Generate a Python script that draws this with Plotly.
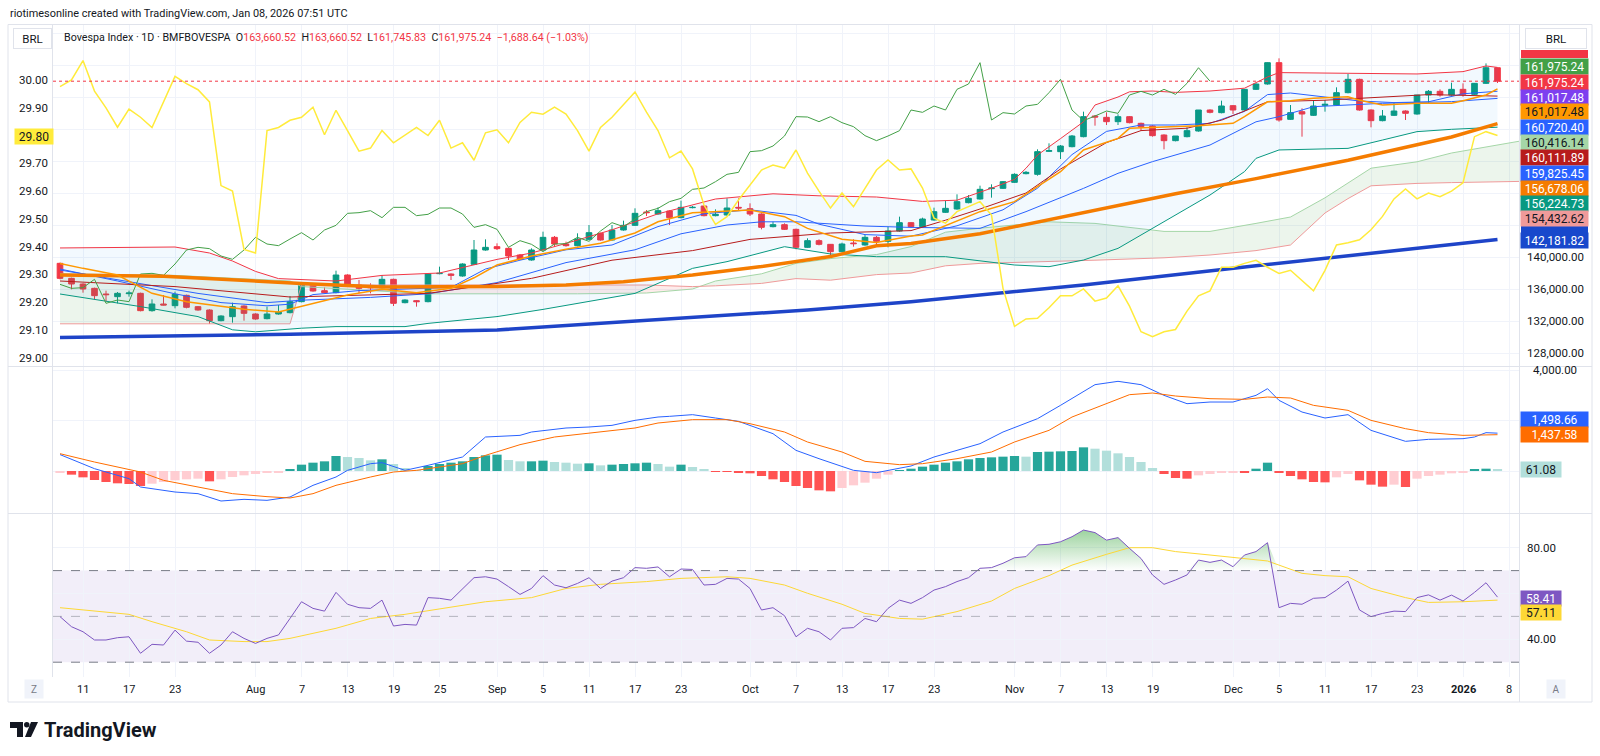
import plotly.graph_objects as go

W, H = 1600, 756
def px(x): return x / W
def py(y): return 1 - y / H

# ---------------- data ----------------
bar_idx = list(range(126))
opens = [139208,137333,136625,136083,135375,135042,135417,135458,133292,134125,
         133917,135208,133792,133375,132042,132542,133875,132875,132292,132875,
         133042,134417,136500,135792,135542,137750,136500,136250,136167,137208,
         134292,134542,134417,137917,137875,137625,139083,140875,141292,141083,
         140250,139625,140875,142458,141625,141417,142208,142958,142125,143375,
         143958,145625,145375,145750,144917,146167,146375,145167,145250,146208,
         146042,145375,143792,144042,143458,141208,142042,141583,140667,141750,
         141500,142458,141958,143250,144292,143792,144625,145583,146000,146792,
         147250,148542,148583,149333,150417,150333,153208,153167,153792,155042,
         157625,157458,156917,157542,156708,156375,155250,154542,155042,155750,
         158375,158042,158917,158375,160958,161625,164292,157208,158167,157708,
         158958,159000,160542,162208,158375,157042,157708,158250,157875,160250,
         160708,160250,160958,160333,161708,163660.52]
highs = [139292,137417,136708,136167,135792,135625,135792,135542,134708,135250,
         135667,135292,133875,133458,132708,134292,133958,132958,133792,134000,
         135125,136833,136583,136208,138292,137833,137125,136708,137750,137292,
         134708,134625,137958,138792,137958,139208,142125,142208,141708,141208,
         140375,141083,143167,142625,141917,142958,144000,143042,144000,144542,
         146083,145875,146208,145833,147042,146375,146458,145958,147333,147333,
         146708,145458,144417,144208,143542,142333,142208,141625,141792,142208,
         142750,142625,143792,145042,144375,144917,146167,147000,147833,147750,
         148917,149083,149500,150458,150750,153458,154208,154000,155250,158167,
         157750,158083,157833,157625,156792,156458,155333,154958,156208,155875,
         158458,159542,159000,158458,161708,161708,164833,159000,158583,159542,
         159625,161208,162875,162292,158458,158375,159292,158333,157958,160875,
         160958,161792,161708,160417,164200,163660.52]
lows = [137208,135958,135542,134708,134417,134208,135042,133208,133167,133958,
        133583,133583,133292,131625,131958,131792,132042,132167,132208,132792,
        132958,134333,135667,135458,135458,136500,135458,135458,136083,133875,
        134208,133792,134333,137833,137125,137542,139000,140792,140875,139625,
        139625,139542,140792,141292,141292,141333,142125,142042,142042,143292,
        143875,145125,145292,144000,144833,146083,145083,145083,145167,145750,
        145125,143458,143708,143375,140958,141125,141458,140208,140583,141292,
        141417,141500,141208,143167,143708,143708,144542,145500,145917,146708,
        147167,147417,148500,149250,150333,150167,153125,152250,153708,154958,
        156417,156500,156500,156708,155750,155042,153458,154458,154958,155667,
        157958,157958,157875,158292,160875,161542,156917,157125,155042,157625,
        158167,158917,160458,158292,156208,156958,157625,157125,157792,159208,
        160042,160167,160042,160250,161625,161745.83]
closes = [137333,136625,136000,135167,135292,135458,135500,133292,134125,134000,
          135333,133708,133375,132042,132625,133792,132958,132250,132875,133125,
          134417,136500,135750,135542,137750,136583,136083,136167,137208,134208,
          134625,134417,137875,137958,137708,139125,140875,141208,141042,140125,
          139708,140875,142458,141625,141417,142250,143042,142125,143375,143958,
          145458,145542,145792,144917,146208,146208,145167,145333,146125,146125,
          145375,143708,144042,143458,141208,142042,141583,140667,141625,141667,
          142458,141958,143250,144292,143792,144750,145667,146083,146917,147333,
          148458,148625,149417,150333,150583,153167,153292,153875,155125,157542,
          157500,156917,157542,156792,156292,155167,154542,155125,155792,158375,
          158083,158875,158375,160958,161625,164292,157125,158042,157875,158875,
          159083,160542,162208,158375,157042,157625,158250,157958,160250,160708,
          160250,160958,160333,161708,163660.52,161975.24]

# Comparison series on the left scale (BRL)
brl_line = [29.976,30.00,30.07,29.96,29.90,29.83,29.895,29.866,29.829,29.921,
            30.013,29.987,29.965,29.921,29.62,29.60,29.39,29.377,29.818,29.829,
            29.855,29.866,29.902,29.803,29.891,29.818,29.744,29.755,29.818,29.774,
            29.803,29.829,29.80,29.855,29.755,29.774,29.711,29.810,29.821,29.774,
            29.847,29.884,29.877,29.902,29.877,29.818,29.744,29.829,29.866,29.91,
            29.957,29.884,29.818,29.72,29.744,29.68,29.55,29.48,29.508,29.568,
            29.62,29.676,29.694,29.683,29.748,29.665,29.60,29.539,29.593,29.544,
            29.61,29.676,29.712,29.676,29.680,29.611,29.503,29.485,29.526,29.545,
            29.562,29.514,29.25,29.113,29.14,29.142,29.18,29.223,29.223,29.248,
            29.204,29.215,29.259,29.186,29.094,29.076,29.094,29.102,29.168,29.223,
            29.241,29.326,29.326,29.340,29.351,29.326,29.304,29.315,29.278,29.241,
            29.315,29.406,29.414,29.425,29.461,29.509,29.572,29.608,29.572,29.593,
            29.58,29.60,29.63,29.796,29.814,29.80]

sma200_x = [0, 20, 38, 50, 65, 74, 89, 104, 125]
sma200_v = [129950, 130350, 130880, 132000, 133380, 134420, 136500, 138900, 142181.82]

sma50_x = [0, 9, 21, 28, 38, 44, 49, 55, 61, 67, 71, 74, 80, 88, 95, 97, 104, 112, 121, 125]
sma50_v = [137750, 137600, 136700, 136250, 136300, 136500, 136900, 137750, 138800, 140050,
           141400, 141700, 142900, 145300, 147400, 147900, 149800, 152100, 155000, 156678.06]

ema_x = [0, 2, 5, 8, 11, 14, 16, 19, 22, 25, 28, 31, 34, 36, 38, 41, 44, 47, 50, 52, 55, 58, 60,
         63, 65, 68, 71, 74, 75, 80, 83, 85, 87, 89, 92, 93, 97, 99, 102, 103, 105, 107, 109,
         112, 113, 115, 118, 121, 122, 124, 125]
ema_v = [139200, 138580, 137750, 135460, 134420, 133875, 133460, 133125, 134200, 135250, 135960,
         135540, 136080, 137400, 139000, 140125, 140960, 141710, 143000, 144400, 145540, 145790,
         145875, 145040, 143580, 142210, 141800, 142625, 142750, 145667, 146917, 148790, 150665,
         153375, 154833, 156083, 156290, 156400, 156708, 157540, 159400, 159540, 159833, 160040,
         159600, 159000, 159208, 159208, 159540, 160250, 161017.48]

bb_up_x = [0, 10, 13, 15, 17, 19, 24, 28, 33, 36, 38, 41, 44, 48, 52, 57, 62, 66, 71, 75, 78, 81,
           83, 84, 85, 87, 89, 90, 92, 93, 95, 97, 100, 103, 105, 106, 112, 118, 122, 124, 125]
bb_up_v = [141130, 141250, 140500, 139500, 138200, 137300, 137000, 137700, 138000, 139000, 139700,
           140500, 141700, 143400, 145400, 147250, 147900, 147650, 147500, 146950, 147100, 148600,
           149700, 151100, 152750, 154800, 156900, 159000, 160000, 160650, 160750, 160580, 160750,
           161100, 162500, 163050, 162950, 162880, 163170, 163880, 163700]
bb_lo_x = [0, 7, 12, 15, 17, 21, 24, 30, 32, 38, 42, 50, 53, 55, 58, 63, 67, 71, 77, 83, 86, 89,
           92, 94, 97, 100, 103, 104, 106, 112, 115, 118, 121, 125]
bb_lo_v = [135375, 133800, 132550, 130900, 130650, 131100, 131300, 131300, 131700, 132550, 133450,
           135450, 137330, 138580, 139420, 141290, 140380, 140040, 140040, 139000, 138790, 139620,
           141080, 142750, 145250, 147750, 150670, 152330, 153380, 153580, 154620, 155670, 155960,
           156224.73]
bb_mid_x = [0, 6, 12, 18, 21, 27, 32, 38, 44, 50, 54, 58, 61, 64, 70, 74, 80, 84, 89, 92, 95, 100,
            104, 106, 109, 115, 121, 125]
bb_mid_v = [138375, 136900, 135450, 134300, 134600, 134950, 135400, 136800, 139300, 140900, 142900,
            144000, 144400, 144400, 143870, 143700, 143580, 145670, 148580, 150460, 151920, 154000,
            156900, 157540, 158790, 159210, 159420, 159825.45]

tenkan_x = [0, 5, 10, 14, 18, 20, 22, 26, 30, 34, 37, 40, 44, 48, 52, 56, 60, 64, 66, 70, 74, 78,
            82, 85, 88, 91, 94, 97, 100, 103, 105, 107, 110, 113, 116, 119, 122, 125]
tenkan_v = [138500, 137000, 135400, 134300, 133900, 134100, 135300, 135800, 136000, 136200, 138500,
            139600, 140900, 141500, 143800, 145400, 145900, 145200, 144100, 142800, 142600, 143900,
            145900, 148600, 152800, 155700, 156500, 156500, 156700, 158200, 160300, 160500, 160000,
            159500, 159300, 159400, 160400, 160720.40]
kijun_x = [0, 10, 20, 32, 41, 48, 55, 60, 67, 74, 77, 80, 84, 87, 91, 94, 98, 101, 105, 110, 119, 125]
kijun_v = [137000, 136300, 135000, 135450, 137330, 139600, 140800, 142200, 143000, 143300, 144600,
           146000, 148000, 151000, 154300, 155800, 156100, 157100, 159400, 159600, 160300, 160111.89]

cloud_x = [0, 10, 20, 21, 32, 45, 51, 55, 57, 61, 64, 67, 71, 74, 77, 80, 86, 90, 96, 100, 104,
           107, 110, 112, 114, 118, 121, 127]
span_a = [137900, 137700, 137000, 136300, 135400, 135400, 135500, 136000, 137000, 137900, 139200,
          139800, 140300, 141300, 143100, 143600, 144400, 144200, 143200, 143200, 144200, 145000,
          147400, 149300, 151100, 151900, 153000, 154500]
span_b = [131650, 131650, 131650, 136500, 136500, 136500, 136500, 136300, 136400, 136700, 137300,
          137100, 137800, 138000, 138900, 139200, 139400, 139600, 139900, 140250, 140800, 141500,
          145500, 147300, 148900, 149200, 149300, 149450]

macd_x = [0, 3, 6, 7, 10, 12, 14, 16, 18, 20, 22, 24, 25, 27, 28, 30, 32, 35, 37, 40, 41, 44, 46,
          48, 50, 52, 53, 55, 57, 59, 62, 64, 66, 69, 71, 74, 76, 80, 82, 85, 87, 89, 90, 92, 94,
          96, 98, 100, 102, 104, 105, 106, 108, 110, 112, 114, 117, 119, 122, 123, 124, 125]
macd_v = [650, 92, -304, -634, -832, -898, -1188, -1122, -1162, -1030, -568, -238, 26, 290, 330,
          26, 224, 554, 1346, 1412, 1544, 1703, 1742, 1808, 2006, 2138, 2165, 2231, 2099, 1967,
          1478, 818, 488, 26, -66, 198, 554, 1082, 1544, 2072, 2600, 3128, 3419, 3551, 3419, 2996,
          2666, 2732, 2732, 2996, 3260, 2798, 2336, 2099, 2231, 1610, 1175, 1254, 1280, 1346, 1518,
          1498.66]
signal_x = [0, 3, 7, 9, 12, 15, 18, 20, 22, 24, 27, 29, 31, 35, 37, 40, 43, 47, 50, 52, 55, 58, 60,
            63, 65, 68, 70, 73, 75, 78, 81, 83, 86, 88, 91, 93, 95, 97, 100, 103, 105, 107, 109,
            112, 114, 117, 119, 122, 125]
signal_v = [686, 356, -40, -370, -634, -898, -1016, -1069, -898, -568, -238, -40, 26, 290, 620, 1043,
            1346, 1544, 1703, 1901, 2033, 2033, 1874, 1544, 1148, 752, 383, 251, 290, 488, 752, 1148,
            1610, 2138, 2666, 3023, 3089, 2970, 2864, 2838, 2930, 2891, 2600, 2402, 2006, 1676, 1518,
            1412, 1437.58]
macd_hist = [-40, -145, -251, -356, -436, -488, -515, -594, -502, -436, -370, -330, -304, -409, -330,
             -238, -172, -119, -79, -40, 66, 251, 330, 383, 594, 554, 515, 422, 462, 277, 119, 26,
             198, 277, 330, 383, 554, 620, 647, 436, 383, 383, 409, 356, 330, 290, 304, 224, 251,
             277, 304, 330, 277, 172, 251, 158, 66, -13, -26, -40, -92, -198, -330, -436, -594,
             -673, -766, -805, -673, -568, -462, -304, -145, 13, 92, 172, 251, 330, 383, 462, 515,
             541, 568, 594, 568, 752, 766, 779, 792, 937, 884, 805, 700, 554, 356, 119, -119, -277,
             -304, -172, -119, -66, -40, -66, 92, 330, -66, -198, -330, -436, -449, -251, -119,
             -370, -541, -620, -541, -634, -304, -198, -145, -92, -40, 66, 92, 61.08]

rsi = [49.9, 45.5, 43.3, 39.7, 39.7, 40.7, 41.1, 33.9, 37.8, 37.5, 44.0, 39.2, 38.7, 33.9, 37.5,
       43.3, 40.4, 38.2, 40.4, 41.9, 49.1, 56.4, 53.5, 52.3, 60.5, 55.3, 53.8, 53.5, 57.1, 45.8,
       46.5, 46.2, 58.2, 57.9, 57.1, 62.2, 66.9, 67.3, 66.3, 63.0, 59.6, 62.2, 67.8, 63.7, 62.5,
       64.4, 66.9, 62.2, 65.4, 66.9, 71.3, 71.0, 71.6, 67.3, 70.7, 70.5, 63.7, 64.0, 66.6, 66.3,
       62.2, 52.8, 53.8, 50.3, 41.1, 44.8, 43.3, 39.7, 44.8, 45.1, 49.1, 47.7, 53.5, 57.1, 55.7,
       58.2, 61.5, 63.0, 65.2, 66.9, 71.0, 71.3, 73.2, 75.6, 76.1, 81.2, 81.5, 82.6, 84.8, 87.7,
       86.6, 83.3, 84.4, 79.7, 75.3, 68.1, 64.0, 65.9, 68.1, 74.6, 73.6, 74.6, 71.7, 76.8, 78.3,
       82.2, 53.8, 55.7, 55.3, 57.9, 58.2, 61.5, 65.4, 52.8, 49.9, 51.3, 52.3, 52.1, 58.2, 59.4,
       57.1, 59.3, 56.7, 60.5, 64.7, 58.41]
rsi_ma_x = [0, 3, 6, 8, 11, 13, 16, 18, 20, 24, 27, 30, 34, 37, 41, 44, 47, 51, 54, 58, 60, 63, 65,
            68, 70, 73, 75, 78, 81, 83, 86, 88, 91, 93, 95, 97, 100, 103, 105, 108, 110, 112, 114,
            117, 119, 122, 125]
rsi_ma_v = [53.8, 52.3, 50.9, 47.7, 43.3, 39.7, 39.0, 39.0, 40.4, 44.8, 49.1, 50.9, 54.2, 56.4, 58.2,
            62.2, 64.0, 65.2, 66.6, 67.3, 66.6, 63.7, 60.1, 55.3, 51.3, 49.1, 48.8, 52.1, 56.7, 62.2,
            67.8, 72.4, 77.1, 80.0, 80.0, 78.3, 76.8, 75.3, 74.2, 68.8, 67.8, 67.3, 62.2, 58.2, 56.1,
            56.4, 57.11]

tick_idx = [2, 6, 10, 17, 21, 25, 29, 33, 38, 42, 46, 50, 54, 60, 64, 68, 72, 76, 83, 87, 91, 95,
            102, 106, 110, 114, 118, 122, 126]
tick_txt = ["11", "17", "23", "Aug", "7", "13", "19", "25", "Sep", "5", "11", "17", "23", "Oct", "7",
            "13", "17", "23", "Nov", "7", "13", "19", "Dec", "5", "11", "17", "23", "2026", "8"]

# ---------------- layout geometry (pixels) ----------------
PL, PR = 53, 1519
MAIN_T, MAIN_B = 24, 366
MACD_T, MACD_B = 367, 513
RSI_T, RSI_B = 514, 677
FONT = "Roboto"
TXT = "#131722"

def price_at(y):   # right scale of the main pane
    return 140000 + (257 - y) * 125
def brl_at(y):
    return 30.0 - (y - 80) / 277.8
def macd_at(y):
    return (471 - y) / 0.02525
def rsi_at(y):
    return 80 - (y - 547.7) / 2.29
def idx_at(x):
    return (x - 60) / 11.5

fig = go.Figure()
line = lambda c, w=1: dict(color=c, width=w)

# Ichimoku cloud fills
segments = [(0, 3, "rgba(67,160,71,0.10)"), (3, 7, "rgba(244,67,54,0.10)"), (7, len(cloud_x) - 1, "rgba(67,160,71,0.10)")]
for a, b, col in segments:
    fig.add_trace(go.Scatter(x=cloud_x[a:b + 1], y=span_b[a:b + 1], mode="lines",
                             line=dict(width=0), hoverinfo="skip"))
    fig.add_trace(go.Scatter(x=cloud_x[a:b + 1], y=span_a[a:b + 1], mode="lines",
                             line=dict(width=0), fill="tonexty", fillcolor=col, hoverinfo="skip"))
fig.add_trace(go.Scatter(x=cloud_x, y=span_a, mode="lines", line=line("#A5D6A7")))
fig.add_trace(go.Scatter(x=cloud_x, y=span_b, mode="lines", line=line("#EF9A9A")))

# Bollinger band fill + lines
fig.add_trace(go.Scatter(x=bb_up_x, y=bb_up_v, mode="lines", line=line("#F23645")))
fig.add_trace(go.Scatter(x=bb_lo_x, y=bb_lo_v, mode="lines", line=line("#089981"),
                         fill="tonexty", fillcolor="rgba(33,150,243,0.06)"))
fig.add_trace(go.Scatter(x=bb_mid_x, y=bb_mid_v, mode="lines", line=line("#2962FF")))
fig.add_trace(go.Scatter(x=tenkan_x, y=tenkan_v, mode="lines", line=line("#2962FF")))
fig.add_trace(go.Scatter(x=kijun_x, y=kijun_v, mode="lines", line=line("#B71C1C")))
# lagging span: closes drawn 25 bars back
fig.add_trace(go.Scatter(x=bar_idx[:101], y=closes[25:], mode="lines", line=line("#43A047")))
fig.add_trace(go.Scatter(x=sma200_x, y=sma200_v, mode="lines", line=line("#1E44C8", 3.5)))
fig.add_trace(go.Scatter(x=sma50_x, y=sma50_v, mode="lines", line=line("#F57C00", 3.5)))
fig.add_trace(go.Scatter(x=ema_x, y=ema_v, mode="lines", line=line("#FF9800", 1.5)))

fig.add_trace(go.Candlestick(x=bar_idx, open=opens, high=highs, low=lows, close=closes,
                             increasing=dict(line=dict(color="#089981", width=1), fillcolor="#089981"),
                             decreasing=dict(line=dict(color="#F23645", width=1), fillcolor="#F23645"),
                             whiskerwidth=0))

# comparison line on left scale
fig.add_trace(go.Scatter(x=bar_idx, y=brl_line, mode="lines", line=line("#FFEB3B", 1.5),
                         yaxis="y2"))

# MACD pane
def hist_color(i):
    v = macd_hist[i]
    prev = macd_hist[i - 1] if i > 0 else v
    if v >= 0:
        return "#26A69A" if v >= prev else "#B2DFDB"
    return "#FF5252" if v < prev else "#FFCDD2"
fig.add_trace(go.Bar(x=bar_idx, y=macd_hist, width=0.8, yaxis="y3",
                     marker=dict(color=[hist_color(i) for i in bar_idx], line=dict(width=0))))
fig.add_trace(go.Scatter(x=macd_x, y=macd_v, mode="lines", line=line("#2962FF"), yaxis="y3"))
fig.add_trace(go.Scatter(x=signal_x, y=signal_v, mode="lines", line=line("#FF6D00"), yaxis="y3"))

# RSI pane
fig.add_trace(go.Scatter(x=bar_idx, y=[70] * len(bar_idx), mode="lines", line=dict(width=0),
                         yaxis="y4", hoverinfo="skip"))
fig.add_trace(go.Scatter(x=bar_idx, y=[max(v, 70) for v in rsi], mode="lines", line=dict(width=0),
                         yaxis="y4", fill="tonexty",
                         fillgradient=dict(type="vertical",
                                           colorscale=[[0, "rgba(76,175,80,0.0)"], [1, "rgba(76,175,80,0.55)"]])))
fig.add_trace(go.Scatter(x=rsi_ma_x, y=rsi_ma_v, mode="lines", line=line("#FDD835"), yaxis="y4"))
fig.add_trace(go.Scatter(x=bar_idx, y=rsi, mode="lines", line=line("#7E57C2"), yaxis="y4"))

grid = "#F0F3FA"
fig.update_layout(
    width=W, height=H, margin=dict(l=0, r=0, t=0, b=0),
    paper_bgcolor="white", plot_bgcolor="white", showlegend=False,
    font=dict(family=FONT, color=TXT),
    xaxis=dict(domain=[px(PL), px(PR)], range=[idx_at(PL), idx_at(PR)], anchor="y4",
               tickvals=tick_idx, showticklabels=False, showgrid=True, gridcolor=grid,
               zeroline=False, showline=False, ticks="", rangeslider=dict(visible=False)),
    yaxis=dict(domain=[py(MAIN_B), py(MAIN_T)], range=[price_at(MAIN_B), price_at(MAIN_T)],
               side="right", tickvals=list(range(128000, 169000, 4000)), showticklabels=False,
               gridcolor=grid, zeroline=False),
    yaxis2=dict(overlaying="y", side="left", range=[brl_at(MAIN_B), brl_at(MAIN_T)],
                showgrid=False, showticklabels=False, zeroline=False),
    yaxis3=dict(domain=[py(MACD_B), py(MACD_T)], range=[macd_at(MACD_B), macd_at(MACD_T)],
                side="right", tickvals=[0, 2000, 4000], showticklabels=False, gridcolor=grid,
                zeroline=False),
    yaxis4=dict(domain=[py(RSI_B), py(RSI_T)], range=[rsi_at(RSI_B), rsi_at(RSI_T)],
                side="right", tickvals=[40, 60, 80], showticklabels=False, gridcolor=grid,
                zeroline=False),
)

shapes = []
def hline(y, x0=8, x1=1592, color="#E0E3EB", w=1):
    shapes.append(dict(type="line", xref="paper", yref="paper", x0=px(x0), x1=px(x1),
                       y0=py(y), y1=py(y), line=dict(color=color, width=w)))
def vline(x, y0, y1, color="#E0E3EB", w=1):
    shapes.append(dict(type="line", xref="paper", yref="paper", x0=px(x), x1=px(x),
                       y0=py(y0), y1=py(y1), line=dict(color=color, width=w)))
def strip(x0, x1, y0, y1, col):
    shapes.append(dict(type="rect", xref="paper", yref="paper", x0=px(x0), x1=px(x1),
                       y0=py(y1), y1=py(y0), fillcolor=col, line=dict(width=0)))
# RSI band and levels
shapes.append(dict(type="rect", xref="paper", yref="y4", x0=px(PL), x1=px(PR), y0=30, y1=70,
                   fillcolor="rgba(126,87,194,0.10)", line=dict(width=0), layer="below"))
for lv, col in [(70, "#787B86"), (50, "rgba(120,123,134,0.5)"), (30, "#787B86")]:
    shapes.append(dict(type="line", xref="paper", yref="y4", x0=px(PL), x1=px(PR), y0=lv, y1=lv,
                       line=dict(color=col, width=1, dash="dash")))
# last price dotted line
shapes.append(dict(type="line", xref="paper", yref="y", x0=px(PL), x1=px(PR),
                   y0=closes[-1], y1=closes[-1], line=dict(color="#F23645", width=1, dash="dot")))
# frame / separators
shapes.append(dict(type="rect", xref="paper", yref="paper", x0=px(8), x1=px(1592), y0=py(702),
                   y1=py(24.5), line=dict(color="#E0E3EB", width=1)))
hline(MAIN_B + 0.5)
hline(MACD_B + 0.5)
hline(RSI_B + 163.5)
vline(PR + 0.5, 24.5, 702)
vline(PL - 0.5, 24.5, 677)
# partly hidden scale labels (covered by the BRL box / neighbouring labels)
strip(1521, 1588, 50, 58, "#F23645")
strip(1521, 1588, 224, 234, "#1848CC")
# TradingView logo glyph
shapes.append(dict(type="path", xref="paper", yref="paper",
                   path=f"M {px(10)} {py(722)} L {px(23)} {py(722)} L {px(23)} {py(737)} L {px(17)} {py(737)} "
                        f"L {px(17)} {py(728)} L {px(10)} {py(728)} Z",
                   fillcolor="#131722", line=dict(width=0)))
shapes.append(dict(type="circle", xref="paper", yref="paper", x0=px(24), x1=px(29.5),
                   y0=py(727.5), y1=py(722), fillcolor="#131722", line=dict(width=0)))
shapes.append(dict(type="path", xref="paper", yref="paper",
                   path=f"M {px(31)} {py(722)} L {px(38)} {py(722)} L {px(31)} {py(737)} L {px(25)} {py(737)} Z",
                   fillcolor="#131722", line=dict(width=0)))

ann = []
def text(x, y, s, size=11.5, color=TXT, xanchor="left", yanchor="middle", xref="paper", yref="paper", **kw):
    ann.append(dict(x=x, y=y, xref=xref, yref=yref, text=s, showarrow=False, xanchor=xanchor,
                    yanchor=yanchor, font=dict(family=FONT, size=size, color=color), **kw))

def label(s, ypix, bg, fg, x0=1521, x1=1588):
    ann.append(dict(x=px((x0 + x1) / 2), y=py(ypix), xref="paper", yref="paper", text=s,
                    showarrow=False, xanchor="center", yanchor="middle",
                    font=dict(family=FONT, size=12, color=fg), bgcolor=bg, width=x1 - x0 - 2,
                    height=13, borderpad=1))

text(px(8), py(13), "riotimesonline created with TradingView.com, Jan 08, 2026 07:51 UTC", size=10.9)
red = "#F23645"
sp = "\u00a0"
title = (f"Bovespa Index · 1D · BMFBOVESPA{sp}{sp}O<span style='color:{red}'>163,660.52</span>{sp}{sp}"
         f"H<span style='color:{red}'>163,660.52</span>{sp}{sp}L<span style='color:{red}'>161,745.83</span>{sp}{sp}"
         f"C<span style='color:{red}'>161,975.24</span>{sp}{sp}<span style='color:{red}'>−1,688.64 (−1.03%)</span>")
text(px(62), py(38), title, size=10.7)

# right scale tick labels
for v in [140000, 136000, 132000, 128000]:
    text(px(1555), v, f"{v:,.2f}", size=11.5, xanchor="center", yref="y")
text(px(1555), 4000, "4,000.00", size=11.5, xanchor="center", yref="y3")
for v in [80, 40]:
    text(px(1541), v, f"{v:.2f}", size=11.5, xanchor="center", yref="y4")
# left scale tick labels
for k in range(0, 11):
    v = 29.0 + k * 0.1
    if abs(v - 29.8) < 1e-6:
        continue
    text(px(33), v, f"{v:.2f}", size=11.5, xanchor="center", yref="y2")

# x tick labels
for i, t in zip(tick_idx, tick_txt):
    s = f"<b>{t}</b>" if t == "2026" else t
    text(i, py(689), s, size=11, xanchor="center", xref="x")
for xc, s in [(34, "Z"), (1556, "A")]:
    ann.append(dict(x=px(xc), y=py(689), xref="paper", yref="paper", text=s, showarrow=False,
                    font=dict(family=FONT, size=10, color="#787B86"), bgcolor="#F0F3FA",
                    width=16, height=16, xanchor="center", yanchor="middle"))

# price labels on the right scale
for s, y, bg, fg in [("161,975.24", 66.7, "#43A047", "white"),
                     ("161,975.24", 82, "#F23645", "white"),
                     ("161,017.48", 97, "#7E3FEF", "white"),
                     ("161,017.48", 111.7, "#FF9800", "#131722"),
                     ("160,720.40", 127.3, "#2962FF", "white"),
                     ("160,416.14", 142.7, "#A5D6A7", "#131722"),
                     ("160,111.89", 157.3, "#B71C1C", "white"),
                     ("159,825.45", 173.3, "#2962FF", "white"),
                     ("156,678.06", 188.3, "#F57C00", "white"),
                     ("156,224.73", 203.3, "#089981", "white"),
                     ("154,432.62", 218.3, "#EF9A9A", "#131722"),
                     ("142,181.82", 240, "#1848CC", "white"),
                     ("1,498.66", 419.3, "#2962FF", "white"),
                     ("1,437.58", 434, "#FF6D00", "white")]:
    label(s, y, bg, fg)
label("61.08", 469.3, "#B2DFDB", "#131722", 1521, 1561)
label("58.41", 598.3, "#7E57C2", "white", 1521, 1561)
label("57.11", 612.3, "#FDD835", "#131722", 1521, 1561)
label("29.80", 136.5, "#FFEB3B", "#131722", 15, 53)

# BRL scale boxes (drawn last so they sit on top)
for xc, wd in [(32.5, 37), (1556, 60)]:
    ann.append(dict(x=px(xc), y=py(38.5), xref="paper", yref="paper", text="BRL", showarrow=False,
                    xanchor="center", yanchor="middle", font=dict(family=FONT, size=11.5, color=TXT),
                    bgcolor="white", bordercolor="#E0E3EB", borderwidth=1, width=wd, height=19,
                    borderpad=0))

text(px(42), py(730), "<b>TradingView</b>", size=20, color="#131722")

fig.update_layout(shapes=shapes, annotations=ann)
fig.write_html("out.html")
